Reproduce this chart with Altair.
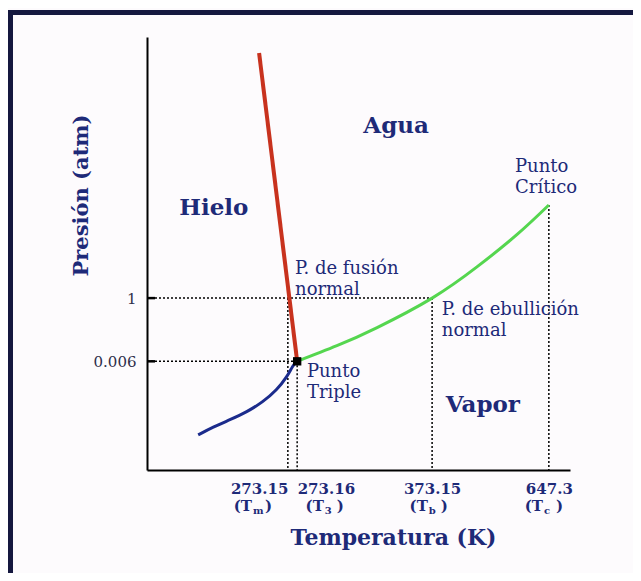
import json
import altair as alt
import pandas as pd

# Schematic phase diagram of water (not to scale): both axes in 0-100 diagram units
NAVY = "#1e2a78"

# x-axis reference temperatures (position in diagram units, label, subscript, 2nd-line centre)
TICK_POS = [33.3, 35.5, 67.4, 95.0]
TICK_NUM = ["273.15", "273.16", "373.15", "647.3"]
TICK_SUB = ["m", "3", "b", "c"]
TICK_SUB_X = [24.8, 41.8, 66.4, 93.6]

# y-axis reference pressures
P_POS = [25.1, 39.7]
P_LABELS = ["0.006", "1"]

# key points
TM_X, T3_X, TB_X, TC_X = TICK_POS
P3_Y, P1_Y = P_POS
PC_Y = 61.2

# curves
fusion_x = [26.5, T3_X]
fusion_y = [96.3, P3_Y]

sub_x = [12.1, 15.6, 19.6, 23.6, 27.4, 30.7, 33.1, 34.5, T3_X]
sub_y = [8.1, 9.9, 11.6, 13.4, 15.7, 18.5, 21.5, 24.2, P3_Y]

vap_x = [T3_X, 44.9, 54.4, TB_X, 78.0, 87.5, TC_X]
vap_y = [P3_Y, 28.7, 32.9, P1_Y, 46.9, 54.4, PC_Y]

# region labels
region_text = ["Agua", "Hielo", "Vapor"]
region_x = [58.9, 15.8, 79.4]
region_y = [77.8, 58.9, 13.4]

# point annotations
note_text = ["P. de fusión\nnormal", "P. de ebullición\nnormal", "Punto\nTriple", "Punto\nCrítico"]
note_x = [35.0, 69.7, 37.8, 87.0]
note_y = [45.3, 35.8, 21.5, 68.8]

xs = alt.Scale(domain=[0, 100], nice=False, zero=False)
ys = alt.Scale(domain=[0, 100], nice=False, zero=False)

label_expr_x = f"{json.dumps(TICK_NUM)}[indexof({json.dumps(TICK_POS)}, datum.value)]"
label_expr_y = f"{json.dumps(P_LABELS)}[indexof({json.dumps(P_POS)}, datum.value)]"

x_axis = alt.Axis(
    values=TICK_POS, labelExpr=label_expr_x, ticks=False, grid=False,
    domainColor="black", domainWidth=2,
    labelFont="DejaVu Serif", labelFontSize=15, labelFontWeight="bold", labelColor=NAVY,
    labelPadding=11, labelOverlap=False, labelFlush=False, labelBound=False,
    labelAlign={"condition": [
        {"test": f"datum.value == {TICK_POS[0]}", "value": "right"},
        {"test": f"datum.value == {TICK_POS[1]}", "value": "left"}],
        "value": "center"},
    title="Temperatura (K)", titleFont="DejaVu Serif", titleFontSize=22,
    titleFontWeight="bold", titleColor=NAVY, titleX=246, titleY=74,
    titleAlign="center", titleBaseline="alphabetic",
)
y_axis = alt.Axis(
    values=P_POS, labelExpr=label_expr_y, ticks=False, grid=False,
    domainColor="black", domainWidth=2,
    labelFont="DejaVu Serif", labelFontSize=15, labelColor="#2e2e4a",
    labelPadding=11, labelOverlap=False, labelFlush=False,
    title="Presión (atm)", titleFont="DejaVu Serif", titleFontSize=21,
    titleFontWeight="bold", titleColor=NAVY, titleX=-60, titleY=158,
    titleAngle=270, titleAlign="center", titleBaseline="alphabetic",
)

# dotted guide lines
guides = pd.DataFrame({
    "x": [0, 0, TM_X, T3_X, TB_X, TC_X],
    "y": [P1_Y, P3_Y, P1_Y, P3_Y, P1_Y, PC_Y],
    "x2": [TB_X, T3_X, TM_X, T3_X, TB_X, TC_X],
    "y2": [P1_Y, P3_Y, 0, 0, 0, 0],
})
base = alt.Chart(guides).mark_rule(color="black", strokeWidth=1.5, strokeDash=[2, 2]).encode(
    x=alt.X("x:Q", scale=xs, axis=x_axis),
    y=alt.Y("y:Q", scale=ys, axis=y_axis),
    x2="x2:Q", y2="y2:Q",
)

stubs = alt.Chart(pd.DataFrame({"y": P_POS, "x0": [0, 0], "x1": [1.9, 1.9]})).mark_rule(
    color="black", strokeWidth=2.5).encode(
    x=alt.X("x0:Q", scale=xs), x2="x1:Q", y=alt.Y("y:Q", scale=ys))

def curve(xv, yv, color, width, interp):
    return alt.Chart(pd.DataFrame({"x": xv, "y": yv, "o": list(range(len(xv)))})).mark_line(
        color=color, strokeWidth=width, interpolate=interp).encode(
        x=alt.X("x:Q", scale=xs), y=alt.Y("y:Q", scale=ys), order="o:O")

fusion = curve(fusion_x, fusion_y, "#c8321e", 4, "linear")
sublim = curve(sub_x, sub_y, "#1b2b8c", 3, "basis")
vapor = curve(vap_x, vap_y, "#55d64f", 3, "natural")

triple = alt.Chart(pd.DataFrame({"x": [T3_X], "y": [P3_Y]})).mark_square(
    color="black", size=70, opacity=1).encode(
    x=alt.X("x:Q", scale=xs), y=alt.Y("y:Q", scale=ys))

regions = alt.Chart(pd.DataFrame({"t": region_text, "x": region_x, "y": region_y})).mark_text(
    font="DejaVu Serif", fontSize=23, fontWeight="bold", color=NAVY,
    align="center", baseline="alphabetic").encode(
    x=alt.X("x:Q", scale=xs), y=alt.Y("y:Q", scale=ys), text="t:N")

notes = alt.Chart(pd.DataFrame({"t": note_text, "x": note_x, "y": note_y})).mark_text(
    font="DejaVu Serif", fontSize=18, color=NAVY, align="left", baseline="alphabetic",
    lineBreak="\n", lineHeight=21).encode(
    x=alt.X("x:Q", scale=xs), y=alt.Y("y:Q", scale=ys), text="t:N")

# second line of the x tick labels: "(T" + subscript + ")"
sub_df = pd.DataFrame({"x": TICK_SUB_X, "sub": TICK_SUB, "y": [-9.5] * 4,
                       "open": ["(T"] * 4, "close": [")"] * 4})
tick_font = dict(font="DejaVu Serif", fontWeight="bold", color=NAVY, baseline="alphabetic")
open_txt = alt.Chart(sub_df).mark_text(fontSize=15, align="right", **tick_font).encode(
    x=alt.X("x:Q", scale=xs), y=alt.Y("y:Q", scale=ys), text="open:N")
sub_txt = alt.Chart(sub_df).mark_text(fontSize=10, align="left", dx=1, dy=3, **tick_font).encode(
    x=alt.X("x:Q", scale=xs), y=alt.Y("y:Q", scale=ys), text="sub:N")
close_txt = alt.Chart(sub_df).mark_text(fontSize=15, align="left", dx=13, **tick_font).encode(
    x=alt.X("x:Q", scale=xs), y=alt.Y("y:Q", scale=ys), text="close:N")

# decorative frame (top and left edges visible in the reference)
frame_top = alt.Chart(pd.DataFrame({"edge": ["top"]})).mark_rule(
    color="#15183f", strokeWidth=5).encode(
    x=alt.value(-139), x2=alt.value(500), y=alt.value(-24.5))
frame_left = alt.Chart(pd.DataFrame({"edge": ["left"]})).mark_rule(
    color="#15183f", strokeWidth=5).encode(
    x=alt.value(-136.5), y=alt.value(-27), y2=alt.value(560))

chart = alt.layer(
    frame_top, frame_left, base, stubs, sublim, vapor, fusion, triple,
    regions, notes, open_txt, sub_txt, close_txt,
).resolve_scale(x="shared", y="shared").properties(
    width=423, height=433,
    padding={"left": 139, "top": 29, "right": 63, "bottom": 103},
    autosize=alt.AutoSizeParams(type="none"),
    background="#fdfbfd",
).configure_view(stroke=None)

chart.save("out.html", embed_options={"renderer": "svg", "actions": False})
